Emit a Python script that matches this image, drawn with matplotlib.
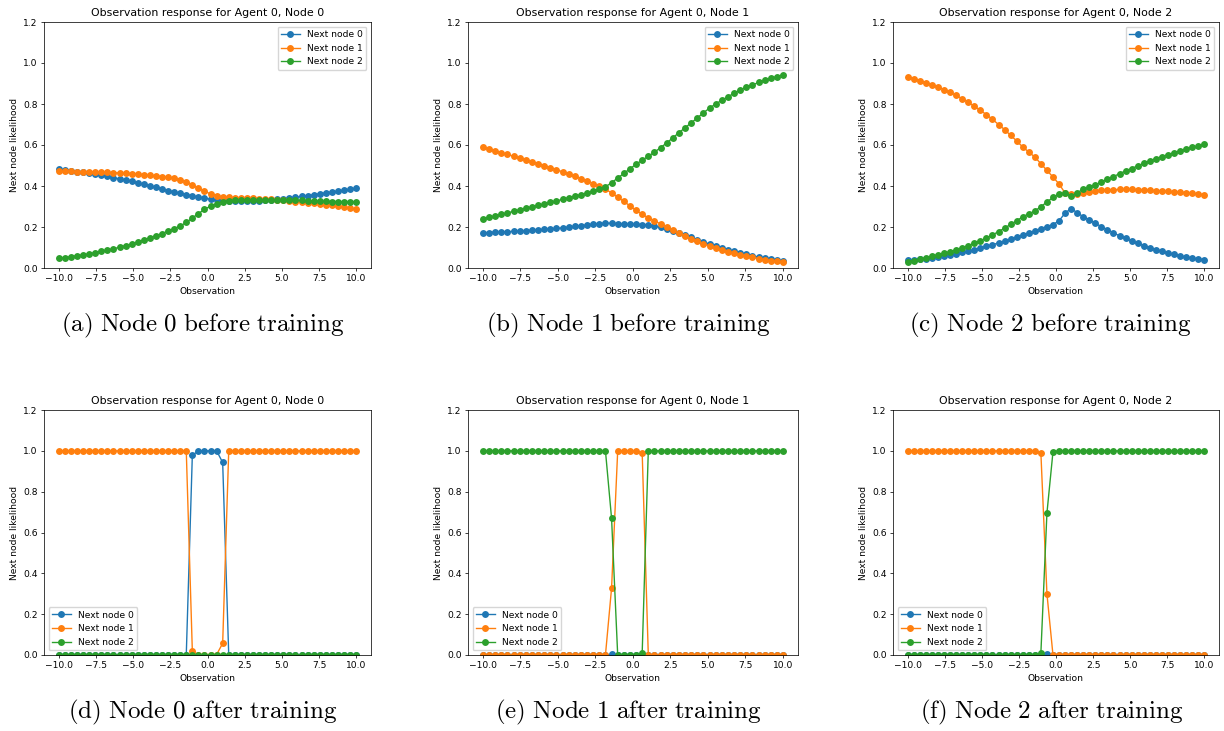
import numpy as np
import matplotlib
matplotlib.use("Agg")
import matplotlib.pyplot as plt

plt.rcParams["mathtext.fontset"] = "cm"

# observation grid shared by every panel
observation = np.linspace(-10, 10, 50)

series_labels = ["Next node 0", "Next node 1", "Next node 2"]
series_colors = ["#1f77b4", "#ff7f0e", "#2ca02c"]

# ---- before training ----
node0_before_n0 = [0.481, 0.478, 0.474, 0.470, 0.466, 0.462, 0.457, 0.452, 0.447, 0.441,
                   0.435, 0.429, 0.422, 0.415, 0.408, 0.401, 0.393, 0.386, 0.378, 0.371,
                   0.364, 0.358, 0.352, 0.346, 0.340, 0.336, 0.333, 0.330, 0.328, 0.327,
                   0.326, 0.326, 0.327, 0.328, 0.330, 0.332, 0.335, 0.338, 0.341, 0.345,
                   0.349, 0.353, 0.357, 0.362, 0.366, 0.371, 0.375, 0.380, 0.384, 0.389]
node0_before_n1 = [0.472, 0.471, 0.471, 0.470, 0.470, 0.469, 0.468, 0.467, 0.466, 0.465,
                   0.464, 0.462, 0.460, 0.458, 0.455, 0.452, 0.449, 0.446, 0.442, 0.437,
                   0.431, 0.420, 0.404, 0.389, 0.374, 0.362, 0.353, 0.347, 0.344, 0.343,
                   0.342, 0.341, 0.340, 0.339, 0.337, 0.335, 0.332, 0.330, 0.327, 0.324,
                   0.321, 0.318, 0.315, 0.312, 0.309, 0.305, 0.301, 0.297, 0.292, 0.287]
node0_before_n2 = [0.047, 0.051, 0.055, 0.060, 0.064, 0.069, 0.075, 0.081, 0.087, 0.094,
                   0.101, 0.109, 0.118, 0.127, 0.137, 0.147, 0.158, 0.168, 0.180, 0.192,
                   0.205, 0.222, 0.244, 0.265, 0.286, 0.302, 0.314, 0.323, 0.328, 0.330,
                   0.332, 0.333, 0.333, 0.333, 0.333, 0.333, 0.333, 0.332, 0.332, 0.331,
                   0.330, 0.329, 0.328, 0.326, 0.325, 0.324, 0.324, 0.323, 0.323, 0.322]

node1_before_n0 = [0.172, 0.173, 0.175, 0.176, 0.177, 0.179, 0.180, 0.182, 0.184, 0.186,
                   0.188, 0.190, 0.193, 0.196, 0.199, 0.203, 0.206, 0.210, 0.214, 0.217,
                   0.219, 0.218, 0.216, 0.214, 0.213, 0.213, 0.212, 0.210, 0.205, 0.198,
                   0.190, 0.180, 0.170, 0.160, 0.149, 0.138, 0.127, 0.117, 0.107, 0.098,
                   0.089, 0.081, 0.073, 0.066, 0.059, 0.053, 0.048, 0.043, 0.039, 0.035]
node1_before_n1 = [0.589, 0.580, 0.571, 0.563, 0.554, 0.545, 0.536, 0.527, 0.518, 0.509,
                   0.500, 0.490, 0.480, 0.469, 0.458, 0.447, 0.436, 0.424, 0.412, 0.399,
                   0.385, 0.366, 0.345, 0.325, 0.303, 0.281, 0.262, 0.245, 0.230, 0.215,
                   0.200, 0.185, 0.170, 0.156, 0.143, 0.130, 0.118, 0.107, 0.097, 0.088,
                   0.079, 0.071, 0.064, 0.058, 0.052, 0.046, 0.041, 0.036, 0.032, 0.028]
node1_before_n2 = [0.239, 0.247, 0.254, 0.261, 0.269, 0.276, 0.284, 0.291, 0.298, 0.305,
                   0.312, 0.320, 0.327, 0.335, 0.343, 0.350, 0.358, 0.366, 0.374, 0.384,
                   0.396, 0.416, 0.439, 0.461, 0.484, 0.506, 0.526, 0.545, 0.565, 0.587,
                   0.610, 0.635, 0.660, 0.684, 0.708, 0.732, 0.757, 0.780, 0.800, 0.818,
                   0.835, 0.852, 0.868, 0.882, 0.893, 0.905, 0.915, 0.925, 0.933, 0.943]

node2_before_n0 = [0.037, 0.040, 0.043, 0.046, 0.050, 0.054, 0.058, 0.064, 0.070, 0.076,
                   0.083, 0.090, 0.098, 0.106, 0.114, 0.122, 0.131, 0.140, 0.150, 0.160,
                   0.170, 0.181, 0.192, 0.202, 0.212, 0.230, 0.268, 0.290, 0.270, 0.250,
                   0.235, 0.218, 0.202, 0.187, 0.172, 0.157, 0.144, 0.132, 0.120, 0.109,
                   0.099, 0.089, 0.081, 0.073, 0.066, 0.059, 0.053, 0.048, 0.044, 0.040]
node2_before_n1 = [0.932, 0.924, 0.914, 0.904, 0.893, 0.881, 0.870, 0.857, 0.842, 0.826,
                   0.808, 0.789, 0.769, 0.748, 0.725, 0.700, 0.675, 0.647, 0.620, 0.590,
                   0.566, 0.541, 0.509, 0.476, 0.444, 0.410, 0.366, 0.360, 0.362, 0.367,
                   0.372, 0.376, 0.379, 0.381, 0.382, 0.383, 0.383, 0.383, 0.382, 0.381,
                   0.379, 0.377, 0.376, 0.374, 0.372, 0.370, 0.367, 0.364, 0.361, 0.357]
node2_before_n2 = [0.031, 0.036, 0.043, 0.050, 0.057, 0.065, 0.072, 0.079, 0.088, 0.098,
                   0.109, 0.121, 0.133, 0.146, 0.161, 0.178, 0.194, 0.213, 0.230, 0.250,
                   0.264, 0.278, 0.299, 0.322, 0.344, 0.360, 0.366, 0.350, 0.368, 0.383,
                   0.393, 0.406, 0.419, 0.432, 0.446, 0.460, 0.473, 0.485, 0.498, 0.510,
                   0.522, 0.534, 0.543, 0.553, 0.562, 0.571, 0.580, 0.588, 0.595, 0.603]

# ---- after training ----
node0_after_n0 = [0, 0, 0, 0, 0, 0, 0, 0, 0, 0,
                  0, 0, 0, 0, 0, 0, 0, 0, 0, 0,
                  0, 0, 0.978, 1.0, 1.0, 1.0, 1.0, 0.943, 0, 0,
                  0, 0, 0, 0, 0, 0, 0, 0, 0, 0,
                  0, 0, 0, 0, 0, 0, 0, 0, 0, 0]
node0_after_n1 = [1.0, 1.0, 1.0, 1.0, 1.0, 1.0, 1.0, 1.0, 1.0, 1.0,
                  1.0, 1.0, 1.0, 1.0, 1.0, 1.0, 1.0, 1.0, 1.0, 1.0,
                  1.0, 1.0, 0.020, 0.0, 0.0, 0.0, 0.002, 0.057, 1.0, 1.0,
                  1.0, 1.0, 1.0, 1.0, 1.0, 1.0, 1.0, 1.0, 1.0, 1.0,
                  1.0, 1.0, 1.0, 1.0, 1.0, 1.0, 1.0, 1.0, 1.0, 1.0]
node0_after_n2 = [0, 0, 0, 0, 0, 0, 0, 0, 0, 0,
                  0, 0, 0, 0, 0, 0, 0, 0, 0, 0,
                  0, 0, 0.002, 0, 0, 0, 0, 0, 0, 0,
                  0, 0, 0, 0, 0, 0, 0, 0, 0, 0,
                  0, 0, 0, 0, 0, 0, 0, 0, 0, 0]

node1_after_n0 = [0, 0, 0, 0, 0, 0, 0, 0, 0, 0,
                  0, 0, 0, 0, 0, 0, 0, 0, 0, 0,
                  0, 0.003, 0, 0, 0, 0, 0, 0, 0, 0,
                  0, 0, 0, 0, 0, 0, 0, 0, 0, 0,
                  0, 0, 0, 0, 0, 0, 0, 0, 0, 0]
node1_after_n1 = [0, 0, 0, 0, 0, 0, 0, 0, 0, 0,
                  0, 0, 0, 0, 0, 0, 0, 0, 0, 0,
                  0, 0.328, 1.0, 1.0, 1.0, 1.0, 0.990, 0, 0, 0,
                  0, 0, 0, 0, 0, 0, 0, 0, 0, 0,
                  0, 0, 0, 0, 0, 0, 0, 0, 0, 0]
node1_after_n2 = [1.0, 1.0, 1.0, 1.0, 1.0, 1.0, 1.0, 1.0, 1.0, 1.0,
                  1.0, 1.0, 1.0, 1.0, 1.0, 1.0, 1.0, 1.0, 1.0, 1.0,
                  1.0, 0.669, 0.0, 0.0, 0.0, 0.0, 0.010, 1.0, 1.0, 1.0,
                  1.0, 1.0, 1.0, 1.0, 1.0, 1.0, 1.0, 1.0, 1.0, 1.0,
                  1.0, 1.0, 1.0, 1.0, 1.0, 1.0, 1.0, 1.0, 1.0, 1.0]

node2_after_n0 = [0, 0, 0, 0, 0, 0, 0, 0, 0, 0,
                  0, 0, 0, 0, 0, 0, 0, 0, 0, 0,
                  0, 0, 0, 0.005, 0, 0, 0, 0, 0, 0,
                  0, 0, 0, 0, 0, 0, 0, 0, 0, 0,
                  0, 0, 0, 0, 0, 0, 0, 0, 0, 0]
node2_after_n1 = [1.0, 1.0, 1.0, 1.0, 1.0, 1.0, 1.0, 1.0, 1.0, 1.0,
                  1.0, 1.0, 1.0, 1.0, 1.0, 1.0, 1.0, 1.0, 1.0, 1.0,
                  1.0, 1.0, 0.990, 0.300, 0.0, 0.0, 0.0, 0.0, 0.0, 0.0,
                  0, 0, 0, 0, 0, 0, 0, 0, 0, 0,
                  0, 0, 0, 0, 0, 0, 0, 0, 0, 0]
node2_after_n2 = [0, 0, 0, 0, 0, 0, 0, 0, 0, 0,
                  0, 0, 0, 0, 0, 0, 0, 0, 0, 0,
                  0, 0, 0.010, 0.695, 0.995, 1.0, 1.0, 1.0, 1.0, 1.0,
                  1.0, 1.0, 1.0, 1.0, 1.0, 1.0, 1.0, 1.0, 1.0, 1.0,
                  1.0, 1.0, 1.0, 1.0, 1.0, 1.0, 1.0, 1.0, 1.0, 1.0]

panels = [
    ("Observation response for Agent 0, Node 0", "(a) Node 0 before training",
     [node0_before_n0, node0_before_n1, node0_before_n2], "upper right"),
    ("Observation response for Agent 0, Node 1", "(b) Node 1 before training",
     [node1_before_n0, node1_before_n1, node1_before_n2], "upper right"),
    ("Observation response for Agent 0, Node 2", "(c) Node 2 before training",
     [node2_before_n0, node2_before_n1, node2_before_n2], "upper right"),
    ("Observation response for Agent 0, Node 0", "(d) Node 0 after training",
     [node0_after_n0, node0_after_n1, node0_after_n2], "lower left"),
    ("Observation response for Agent 0, Node 1", "(e) Node 1 after training",
     [node1_after_n0, node1_after_n1, node1_after_n2], "lower left"),
    ("Observation response for Agent 0, Node 2", "(f) Node 2 after training",
     [node2_after_n0, node2_after_n1, node2_after_n2], "lower left"),
]

W, H = 1224, 731
fig = plt.figure(figsize=(W / 100, H / 100), dpi=100)

# axes boxes in pixels: (left, right, top, bottom)
boxes = [(44, 371, 22, 268), (468, 798, 22, 268), (893, 1219, 22, 268),
         (44, 371, 410, 655), (468, 798, 410, 655), (893, 1219, 410, 655)]
caption_centers = [(203, 325), (628, 325), (1050, 325),
                   (203, 712), (628, 712), (1052, 712)]

s = 0.66  # shrink factor for the individual figure panels
for (title, caption, series, loc), (l, r, t, b), (cx, cy) in zip(panels, boxes, caption_centers):
    ax = fig.add_axes([l / W, 1 - b / H, (r - l) / W, (b - t) / H])
    for vals, lab, col in zip(series, series_labels, series_colors):
        ax.plot(observation, vals, marker="o", color=col, label=lab,
                linewidth=1.5 * s, markersize=6 * s)
    ax.set_ylim(0, 1.2)
    ax.set_yticks([0.0, 0.2, 0.4, 0.6, 0.8, 1.0, 1.2])
    ax.set_xticks([-10, -7.5, -5, -2.5, 0, 2.5, 5, 7.5, 10])
    ax.set_title(title, fontsize=12 * s, pad=6 * s)
    ax.set_xlabel("Observation", fontsize=10 * s, labelpad=4 * s)
    ax.set_ylabel("Next node likelihood", fontsize=10 * s, labelpad=4 * s)
    ax.tick_params(labelsize=10 * s, length=3.5 * s, width=0.8 * s, pad=3.5 * s)
    for sp in ax.spines.values():
        sp.set_linewidth(0.8 * s)
    ax.legend(loc=loc, fontsize=10 * s, handlelength=2.0, borderpad=0.4,
              labelspacing=0.5, handletextpad=0.8, borderaxespad=0.5)
    words = caption.replace(" ", r"\ ")
    fig.text(cx / W, 1 - cy / H, r"$\mathrm{" + words + "}$", fontsize=18,
             ha="center", va="center")

fig.savefig("out.png", dpi=100)
